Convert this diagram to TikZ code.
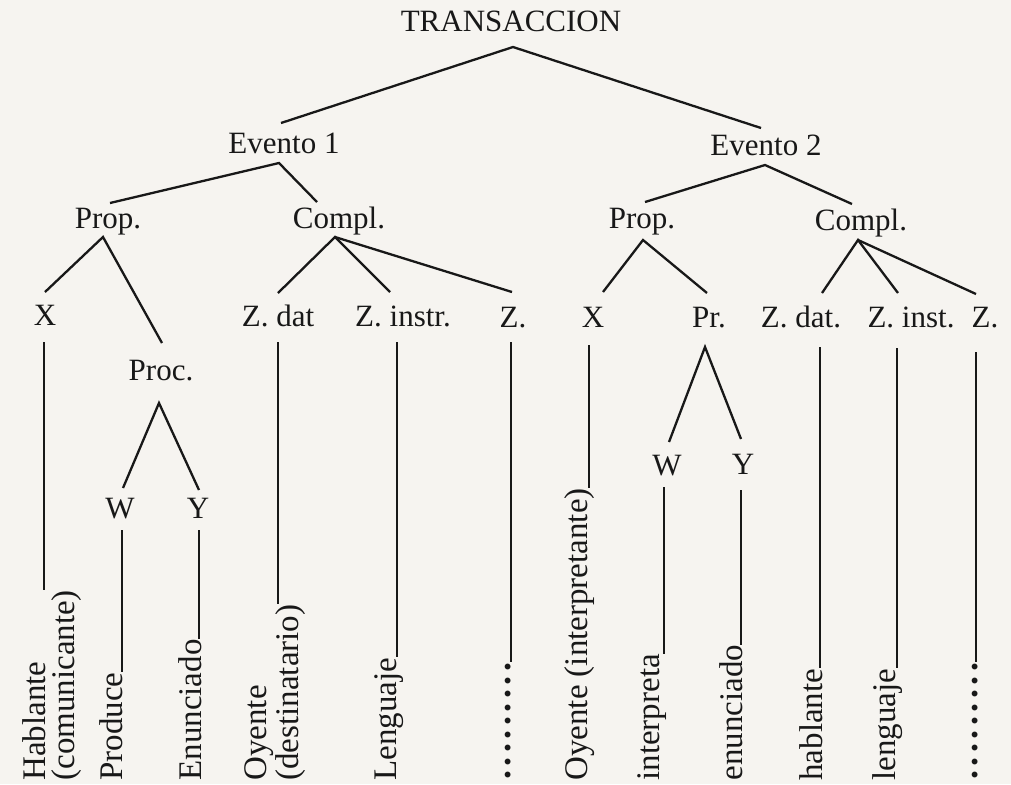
\documentclass[tikz,border=0pt]{standalone}
\usepackage{fontspec}
\setmainfont{Liberation Serif}
\newcommand\fsz{\fontsize{15.5}{16}\selectfont}
\newcommand\vfsz{\fontsize{16.5}{14.5}\selectfont}
\newcommand\dotcol{\fontsize{18}{18}\selectfont\bfseries .\kern2.25pt.\kern2.25pt.\kern2.25pt.\kern2.25pt.\kern2.25pt.\kern2.25pt.\kern2.25pt.\kern2.25pt.}
\definecolor{ink}{RGB}{24,24,24}
\definecolor{paper}{RGB}{246,244,240}
\begin{document}
\begin{tikzpicture}[x=0.5pt,y=-0.5pt,
  lbl/.style={font=\fsz, inner sep=0pt, anchor=base, text=ink},
  vlbl/.style={font=\vfsz, inner sep=0pt, rotate=90, anchor=base west, text=ink},
  vlbltwo/.style={font=\vfsz, inner sep=0pt, rotate=90, anchor=north west, align=left, text=ink},
  dotsnode/.style={inner sep=0pt, rotate=90, anchor=base west, text=ink},
  br/.style={draw=ink, line width=1.15pt}]
\fill[paper] (0,0) rectangle (1011,784);
\useasboundingbox (0,0) rectangle (1011,784);
% text nodes
\node[lbl] (T) at (511,31) {TRANSACCION};
\node[lbl] (E1) at (284,153) {Evento 1};
\node[lbl] (E2) at (766,155) {Evento 2};
\node[lbl] (P1) at (108,228) {Prop.};
\node[lbl] (C1) at (339,228) {Compl.};
\node[lbl] (P2) at (642,228) {Prop.};
\node[lbl] (C2) at (861,230) {Compl.};
\node[lbl] (X1) at (45,325) {X};
\node[lbl] (Zd1) at (278,326) {Z. dat};
\node[lbl] (Zi1) at (403,326) {Z. instr.};
\node[lbl] (Z1) at (513,327) {Z.};
\node[lbl] (X2) at (593,327) {X};
\node[lbl] (Pr) at (709,327) {Pr.};
\node[lbl] (Zd2) at (801,327) {Z. dat.};
\node[lbl] (Zi2) at (911,327) {Z. inst.};
\node[lbl] (Z2) at (985,327) {Z.};
\node[lbl] (Proc) at (161,380) {Proc.};
\node[lbl] (W1) at (120,518) {W};
\node[lbl] (Y1) at (198,518) {Y};
\node[lbl] (W2) at (667,475) {W};
\node[lbl] (Y2) at (743,474) {Y};
% vertical labels
\node[vlbltwo] (L1) at (22,781) {Hablante\\(comunicante)};
\node[vlbl] (L2) at (122,781) {Produce};
\node[vlbl] (L3) at (201,781) {Enunciado};
\node[vlbltwo] (L4) at (244,781) {Oyente\\(destinatario)};
\node[vlbl] (L5) at (396,781) {Lenguaje};
\node[dotsnode] (L6) at (510.5,780) {\dotcol};
\node[vlbl] (L7) at (587,781) {Oyente (interpretante)};
\node[vlbl] (L8) at (659,781) {interpreta};
\node[vlbl] (L9) at (742,781) {enunciado};
\node[vlbl] (L10) at (822,781) {hablante};
\node[vlbl] (L11) at (895,781) {lenguaje};
\node[dotsnode] (L12) at (977.5,780) {\dotcol};
% branch points
\coordinate (Tb) at (513,47);
\coordinate (E1t) at (281,123);
\coordinate (E2t) at (761,128);
\coordinate (E1b) at (279,163);
\coordinate (P1t) at (110,203);
\coordinate (C1t) at (317,202);
\coordinate (E2b) at (765,165);
\coordinate (P2t) at (645,202);
\coordinate (C2t) at (852,204);
\coordinate (P1b) at (103,237);
\coordinate (X1t) at (45,292);
\coordinate (Proct) at (162,343);
\coordinate (C1b) at (335,237);
\coordinate (Zd1t) at (278,293);
\coordinate (Zi1t) at (390,292);
\coordinate (Z1t) at (512,292);
\coordinate (P2b) at (643,240);
\coordinate (X2t) at (603,292);
\coordinate (Prt) at (707,293);
\coordinate (C2b) at (858,240);
\coordinate (Zd2t) at (822,293);
\coordinate (Zi2t) at (898,293);
\coordinate (Z2t) at (976,294);
\coordinate (Procb) at (159,403);
\coordinate (W1t) at (123,488);
\coordinate (Y1t) at (199,490);
\coordinate (Prb) at (705,347);
\coordinate (W2t) at (669,442);
\coordinate (Y2t) at (741,439);
\coordinate (X1b) at (44,342);
\coordinate (W1b) at (122,530);
\coordinate (Y1b) at (199,530);
\coordinate (Zd1b) at (278,342);
\coordinate (Zi1b) at (397,342);
\coordinate (Z1b) at (511,342);
\coordinate (X2b) at (589,345);
\coordinate (W2b) at (664,487);
\coordinate (Y2b) at (741,490);
\coordinate (Zd2b) at (820,347);
\coordinate (Zi2b) at (897,348);
\coordinate (Z2b) at (976,352);
% tree
\draw[br] (E1t) -- (Tb) -- (E2t);
\draw[br] (P1t) -- (E1b) -- (C1t);
\draw[br] (P2t) -- (E2b) -- (C2t);
\draw[br] (X1t) -- (P1b) -- (Proct);
\draw[br] (Zd1t) -- (C1b) -- (Zi1t);
\draw[br] (C1b) -- (Z1t);
\draw[br] (X2t) -- (P2b) -- (Prt);
\draw[br] (Zd2t) -- (C2b) -- (Zi2t);
\draw[br] (C2b) -- (Z2t);
\draw[br] (W1t) -- (Procb) -- (Y1t);
\draw[br] (W2t) -- (Prb) -- (Y2t);
% verticals
\draw[br] (X1b) -- (X1b |- L1.east);
\draw[br] (W1b) -- (W1b |- L2.east);
\draw[br] (Y1b) -- (Y1b |- L3.east);
\draw[br] (Zd1b) -- (Zd1b |- L4.east);
\draw[br] (Zi1b) -- (Zi1b |- L5.east);
\draw[br] (Z1b) -- (Z1b |- L6.east);
\draw[br] (X2b) -- (X2b |- L7.east);
\draw[br] (W2b) -- (W2b |- L8.east);
\draw[br] (Y2b) -- (Y2b |- L9.east);
\draw[br] (Zd2b) -- (Zd2b |- L10.east);
\draw[br] (Zi2b) -- (Zi2b |- L11.east);
\draw[br] (Z2b) -- (Z2b |- L12.east);
\end{tikzpicture}
\end{document}
